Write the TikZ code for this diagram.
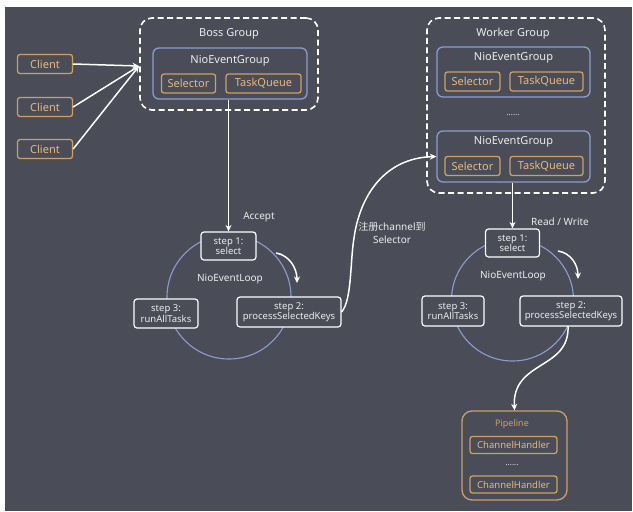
\documentclass[tikz,border=0pt]{standalone}
\usepackage{fontspec}
\setmainfont{Noto Sans}
\newfontfamily\cjk{Noto Sans CJK SC}
\usetikzlibrary{arrows.meta}
\definecolor{bgc}{RGB}{74,77,88}
\definecolor{orn}{RGB}{205,160,100}
\definecolor{orntext}{RGB}{230,185,125}
\definecolor{blu}{RGB}{140,156,208}
\definecolor{txt}{RGB}{236,236,236}
\tikzset{
  obox/.style={draw=orn, line width=1.3pt, rounded corners=2.5pt, text=orntext, inner sep=0pt, font=\fontsize{11}{13}\selectfont},
  bbox/.style={draw=blu, line width=1.3pt, rounded corners=6pt, inner sep=0pt},
  dbox/.style={draw=white, line width=1.6pt, rounded corners=12pt, dash pattern=on 6pt off 3.5pt, inner sep=0pt},
  stepbox/.style={draw=white, line width=1.2pt, rounded corners=3pt, fill=bgc, text=txt, inner sep=0pt, align=center, font=\fontsize{9.5}{10.5}\selectfont},
  lbl/.style={text=txt, inner sep=0pt, font=\fontsize{11}{13}\selectfont},
  slbl/.style={text=txt, inner sep=0pt, font=\fontsize{10}{12}\selectfont},
  conn/.style={draw=white, line width=1.5pt, -{Stealth[length=6.5pt,width=6pt]}},
  loopc/.style={draw=blu, line width=1.1pt},
}
\begin{document}
\begin{tikzpicture}[x=1pt,y=-1pt]
\useasboundingbox (0,0) rectangle (633,512);
\fill[white] (0,0) rectangle (633,512);
\fill[bgc] (5,7) rectangle (632,511);

% clients
\node[obox, minimum width=55pt, minimum height=19pt] (c1) at (45,64) {Client};
\node[obox, minimum width=55pt, minimum height=19pt] (c2) at (45,107) {Client};
\node[obox, minimum width=55pt, minimum height=19pt] (c3) at (45,149) {Client};

% boss group
\node[dbox, minimum width=178pt, minimum height=92pt] (boss) at (229,64) {};
\node[lbl] (bosst) at (229,34) {Boss Group};
\node[bbox, minimum width=154pt, minimum height=51pt] (ngb) at (230,73.5) {};
\node[lbl] (ngbt) at (230,61) {NioEventGroup};
\node[obox, minimum width=54pt, minimum height=19pt] (selb) at (188.5,83.5) {Selector};
\node[obox, minimum width=75pt, minimum height=19pt] (tqb) at (263.5,83.5) {TaskQueue};
\coordinate (bossin) at (139,66);

\draw[conn] (c1.east) -- (bossin);
\draw[conn] (c2.east) -- (bossin);
\draw[conn] (c3.east) -- (bossin);

% left loop
\draw[loopc] (229,297) circle (62);
\node[stepbox, minimum width=55pt, minimum height=28pt] (s1l) at (228.5,246) {step 1:\\select};
\node[stepbox, minimum width=64pt, minimum height=29pt] (s3l) at (166,313.5) {step 3:\\runAllTasks};
\node[stepbox, minimum width=104pt, minimum height=30pt] (s2l) at (289,312) {step 2:\\processSelectedKeys};
\node[slbl] (nell) at (230,279) {NioEventLoop};
\node[slbl, font=\fontsize{10}{12}\bfseries] (acc) at (259,217) {Accept};
\draw[conn] (s1l.north |- ngb.south) -- (s1l.north);
\coordinate (al1) at (276,253);
\coordinate (al2) at (297,283);
\draw[conn] (al1) .. controls (289,255) and (297,268) .. (al2);

% worker group
\node[dbox, minimum width=178pt, minimum height=175pt] (wrk) at (516,105.5) {};
\node[lbl] (wrkt) at (513,34) {Worker Group};
\node[bbox, minimum width=153pt, minimum height=50pt] (ng1) at (513.5,72) {};
\node[lbl] (ng1t) at (513.5,58) {NioEventGroup};
\node[obox, minimum width=55pt, minimum height=19pt] (sel1) at (472.5,81.5) {Selector};
\node[obox, minimum width=73pt, minimum height=19pt] (tq1) at (546.5,81.5) {TaskQueue};
\node[slbl, font=\fontsize{8}{10}\selectfont] (wdots) at (513,115) {......};
\node[bbox, minimum width=153pt, minimum height=51pt] (ng2) at (513.5,156.5) {};
\node[lbl] (ng2t) at (513.5,142) {NioEventGroup};
\node[obox, minimum width=55pt, minimum height=19pt] (sel2) at (472.5,166) {Selector};
\node[obox, minimum width=73pt, minimum height=19pt] (tq2) at (546.5,166) {TaskQueue};

% right loop
\draw[loopc] (512.5,300) circle (61);
\node[stepbox, minimum width=54pt, minimum height=28pt] (s1r) at (512.5,243) {step 1:\\select};
\node[stepbox, minimum width=62pt, minimum height=30pt] (s3r) at (453,311) {step 3:\\runAllTasks};
\node[stepbox, minimum width=102pt, minimum height=30pt] (s2r) at (571,311) {step 2:\\processSelectedKeys};
\node[slbl] (nelr) at (513,276) {NioEventLoop};
\node[slbl, font=\fontsize{10}{12}\bfseries] (rw) at (560,222) {Read / Write};
\draw[conn] (s1r.north |- ng2.south) -- (s1r.north);
\coordinate (ar1) at (558,251);
\coordinate (ar2) at (578,279);
\draw[conn] (ar1) .. controls (571,253) and (578,265) .. (ar2);

% register curve
\draw[conn] (s2l.east) .. controls (352,300) and (350,262) .. (354,238) .. controls (360,195) and (385,158) .. (ng2.west);
\node[slbl, align=center, font=\fontsize{10}{12.5}\selectfont] (reg) at (392,233) {{\cjk 注册}channel{\cjk 到}\\Selector};

% pipeline
\node[obox, rounded corners=10pt, minimum width=105pt, minimum height=89pt] (pipe) at (514.5,455.5) {};
\node[inner sep=0pt, text=orn, font=\fontsize{9}{11}\selectfont] (pipet) at (512,424) {Pipeline};
\node[obox, minimum width=87pt, minimum height=17pt, font=\fontsize{9.5}{11}\selectfont] (ch1) at (513.5,445) {ChannelHandler};
\node[inner sep=0pt, text=txt, font=\fontsize{8}{10}\selectfont] (pdots) at (512,465) {......};
\node[obox, minimum width=87pt, minimum height=17pt, font=\fontsize{9.5}{11}\selectfont] (ch2) at (513.5,484.5) {ChannelHandler};
\coordinate (s2rb) at (568,326);
\draw[conn] (s2rb) .. controls (570,370) and (512,360) .. (pipe.north);
\end{tikzpicture}
\end{document}
